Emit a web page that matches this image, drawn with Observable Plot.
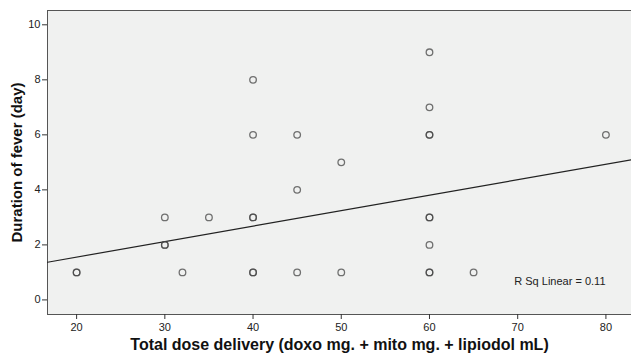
<!DOCTYPE html>
<html>
<head>
<meta charset="utf-8">
<script src="https://cdn.jsdelivr.net/npm/d3@7"></script>
<script src="https://cdn.jsdelivr.net/npm/@observablehq/plot@0.6"></script>
<style>
  html, body { margin: 0; padding: 0; background: #fff; }
  #chart svg { font-family: "Liberation Sans", Arial, sans-serif; }
  #chart [aria-label="x-axis label"] text { font-weight: bold; font-size: 16px; fill: #111; }
  #chart [aria-label="y-axis label"] text { font-weight: bold; font-size: 15px; fill: #111; }
</style>
</head>
<body>
<div id="chart"></div>
<script>
// Data (duplicates are overlapping circles)
const doseX = [20,20,30,30,30,32,35,40,40,40,40,40,40,45,45,45,50,50,60,60,60,60,60,60,60,60,60,65,80];
const feverDays = [1,1,3,2,2,1,3,8,6,3,3,1,1,6,4,1,5,1,9,7,6,6,3,3,2,1,1,1,6];
const xTicks = [20,30,40,50,60,70,80];
const yTicks = [0,2,4,6,8,10];
const fitIntercept = 0.43;
const fitSlope = 0.0563;
const rSqLabel = "R Sq Linear = 0.11";
const xTitle = "Total dose delivery (doxo mg. + mito mg. + lipiodol mL)";
const yTitle = "Duration of fever (day)";

const xDomain = [16.7, 82.9];
const yDomain = [-0.53, 10.52];

const points = doseX.map((x, i) => ({x, y: feverDays[i]}));
const fitLine = xDomain.map(x => ({x, y: fitIntercept + fitSlope * x}));

const chart = Plot.plot({
  width: 631,
  height: 358,
  marginLeft: 47,
  marginRight: 0,
  marginTop: 10,
  marginBottom: 44,
  style: {fontSize: "11px", color: "#222", background: "#fff", overflow: "visible"},
  x: {domain: xDomain},
  y: {domain: yDomain},
  marks: [
    Plot.frame({fill: "#f0f1f0", stroke: "none"}),
    Plot.frame({anchor: "top", stroke: "#555", strokeWidth: 1}),
    Plot.frame({anchor: "left", stroke: "#555", strokeWidth: 1}),
    Plot.frame({anchor: "bottom", stroke: "#555", strokeWidth: 1}),
    Plot.axisX({ticks: xTicks, tickSize: 5, tickPadding: 4, label: xTitle, labelAnchor: "center", labelArrow: "none", labelOffset: 35, stroke: "#333"}),
    Plot.axisY({ticks: yTicks, tickSize: 5, tickPadding: 2, label: yTitle, labelAnchor: "center", labelArrow: "none", labelOffset: 36, stroke: "#333"}),
    Plot.line(fitLine, {x: "x", y: "y", stroke: "#222", strokeWidth: 1.2}),
    Plot.dot(points, {x: "x", y: "y", r: 3.3, stroke: "#444", strokeOpacity: 0.75, strokeWidth: 1.3, fill: "none"}),
    Plot.text([rSqLabel], {frameAnchor: "bottom-right", dx: -26, dy: -30, fontSize: 11, fill: "#222"})
  ]
});
document.getElementById("chart").appendChild(chart);
</script>
</body>
</html>
